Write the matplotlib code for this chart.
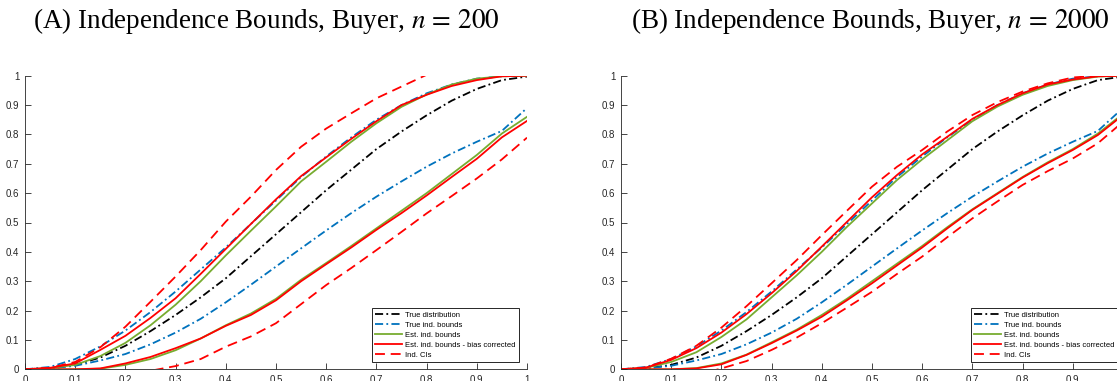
import matplotlib.pyplot as plt
import numpy as np
from matplotlib.ticker import FormatStrFormatter

plt.rcParams['font.family'] = ['Liberation Sans', 'DejaVu Sans']
plt.rcParams['mathtext.fontset'] = 'stix'

# grid of evaluation points
x = np.linspace(0, 1, 21)

# true distribution and true independence bounds (same in both panels)
true_dist = [0, 0.003, 0.015, 0.04, 0.08, 0.13, 0.185, 0.245, 0.31, 0.385, 0.46,
             0.535, 0.61, 0.68, 0.75, 0.81, 0.865, 0.915, 0.955, 0.985, 0.997]
true_hi = [0, 0.008, 0.035, 0.078, 0.132, 0.195, 0.265, 0.34, 0.415, 0.495, 0.575,
           0.655, 0.725, 0.79, 0.85, 0.9, 0.94, 0.97, 0.99, 0.998, 1.0]
true_lo = [0, 0.003, 0.012, 0.03, 0.052, 0.085, 0.125, 0.172, 0.228, 0.288, 0.35,
           0.412, 0.473, 0.532, 0.588, 0.64, 0.69, 0.735, 0.775, 0.812, 0.89]

# (A) n = 200
est_hi_a = [0, 0.004, 0.015, 0.045, 0.09, 0.15, 0.22, 0.3, 0.388, 0.472, 0.555,
            0.64, 0.707, 0.775, 0.838, 0.894, 0.936, 0.97, 0.99, 0.998, 1.0]
est_lo_a = [0, 0, 0, 0.002, 0.015, 0.035, 0.065, 0.105, 0.15, 0.19, 0.24,
            0.305, 0.362, 0.42, 0.48, 0.54, 0.6, 0.665, 0.73, 0.803, 0.86]
bc_hi_a = [0, 0.005, 0.02, 0.066, 0.114, 0.175, 0.242, 0.325, 0.41, 0.495, 0.579,
           0.658, 0.722, 0.785, 0.845, 0.9, 0.935, 0.965, 0.985, 0.998, 1.0]
bc_lo_a = [0, 0, 0, 0.003, 0.02, 0.042, 0.072, 0.105, 0.148, 0.185, 0.235,
           0.3, 0.358, 0.415, 0.475, 0.532, 0.592, 0.655, 0.717, 0.79, 0.846]
ci_hi_a = [0, 0.005, 0.025, 0.075, 0.145, 0.23, 0.316, 0.406, 0.503, 0.588, 0.679,
           0.758, 0.82, 0.872, 0.923, 0.963, 1.003, 1.04, 1.07, 1.09, 1.1]
ci_lo_a = [-0.05, -0.05, -0.05, -0.04, -0.03, -0.005, 0.011, 0.035, 0.077, 0.112, 0.157,
           0.222, 0.287, 0.345, 0.406, 0.468, 0.531, 0.59, 0.65, 0.715, 0.789]

# (B) n = 2000
est_hi_b = [0, 0.005, 0.025, 0.058, 0.11, 0.17, 0.245, 0.32, 0.4, 0.485, 0.565,
            0.645, 0.715, 0.78, 0.845, 0.895, 0.935, 0.965, 0.985, 0.997, 1.0]
est_lo_b = [0, 0, 0, 0.004, 0.02, 0.05, 0.092, 0.135, 0.185, 0.24, 0.3,
            0.36, 0.42, 0.484, 0.545, 0.6, 0.655, 0.705, 0.75, 0.803, 0.87]
bc_hi_b = [0, 0.006, 0.032, 0.072, 0.125, 0.188, 0.259, 0.335, 0.418, 0.502, 0.586,
           0.662, 0.732, 0.792, 0.853, 0.9, 0.94, 0.97, 0.987, 0.998, 1.0]
bc_lo_b = [0, 0, 0, 0.003, 0.017, 0.049, 0.089, 0.132, 0.179, 0.235, 0.293,
           0.354, 0.415, 0.48, 0.543, 0.598, 0.653, 0.702, 0.747, 0.798, 0.866]
ci_hi_b = [0, 0.006, 0.036, 0.08, 0.142, 0.215, 0.293, 0.372, 0.457, 0.54, 0.622,
           0.69, 0.747, 0.81, 0.866, 0.91, 0.946, 0.974, 0.994, 1.0, 1.0]
ci_lo_b = [-0.05, -0.05, -0.04, -0.02, 0.003, 0.028, 0.066, 0.108, 0.157, 0.21, 0.264,
           0.325, 0.384, 0.45, 0.514, 0.572, 0.628, 0.675, 0.718, 0.77, 0.843]

titles = [r'(A) Independence Bounds, Buyer, $n\,=\,200$',
          r'(B) Independence Bounds, Buyer, $n\,=\,2000$']
panels = [(est_hi_a, est_lo_a, bc_hi_a, bc_lo_a, ci_hi_a, ci_lo_a),
          (est_hi_b, est_lo_b, bc_hi_b, bc_lo_b, ci_hi_b, ci_lo_b)]

blue = '#0072BD'
green = '#77AC30'
red = '#FF0000'
axcol = '#262626'
lw = 1.3
dashdot = (0, (4.5, 1.8, 1.0, 1.8))
dashed = (0, (5.5, 3.2))

fig = plt.figure(figsize=(11.17, 3.81), dpi=100)
lefts = [25 / 1117, 621 / 1117]
title_x = [266 / 1117, 870 / 1117]

for i in range(2):
    est_hi, est_lo, bc_hi, bc_lo, ci_hi, ci_lo = panels[i]
    ax = fig.add_axes([lefts[i], 11.7 / 381, 502 / 1117, 293.6 / 381])
    ax.plot(x, true_dist, color='k', lw=lw, linestyle=dashdot, label='True distribution')
    ax.plot(x, true_hi, color=blue, lw=lw, linestyle=dashdot, label='True ind. bounds')
    ax.plot(x, true_lo, color=blue, lw=lw, linestyle=dashdot)
    ax.plot(x, est_hi, color=green, lw=lw, label='Est. ind. bounds')
    ax.plot(x, est_lo, color=green, lw=lw)
    ax.plot(x, bc_hi, color=red, lw=lw, label='Est. ind. bounds - bias corrected')
    ax.plot(x, bc_lo, color=red, lw=lw)
    ax.plot(x, ci_hi, color=red, lw=lw, linestyle=dashed, label='Ind. CIs')
    ax.plot(x, ci_lo, color=red, lw=lw, linestyle=dashed)

    ax.set_xlim(0, 1)
    ax.set_ylim(0, 1)
    ax.set_xticks(np.arange(0, 1.01, 0.1))
    ax.set_yticks(np.arange(0, 1.01, 0.1))
    ax.xaxis.set_major_formatter(FormatStrFormatter('%g'))
    ax.yaxis.set_major_formatter(FormatStrFormatter('%g'))
    ax.tick_params(direction='in', length=4, width=0.6, colors=axcol,
                   labelsize=7, pad=4)
    for s in ['top', 'right']:
        ax.spines[s].set_visible(False)
    for s in ['left', 'bottom']:
        ax.spines[s].set_color(axcol)
        ax.spines[s].set_linewidth(0.6)

    leg = ax.legend(loc='lower right', bbox_to_anchor=(0.984 if i == 0 else 0.99, 0.025),
                    fontsize=5.5, handlelength=3.5, handletextpad=0.5,
                    labelspacing=0.35, borderpad=0.4, borderaxespad=0,
                    fancybox=False, framealpha=1)
    leg.get_frame().set_edgecolor(axcol)
    leg.get_frame().set_linewidth(0.7)

    fig.text(title_x[i], 1 - 28 / 381, titles[i], ha='center', va='baseline',
             fontsize=19.5, family='Liberation Serif')

plt.savefig('out.png', dpi=100)
